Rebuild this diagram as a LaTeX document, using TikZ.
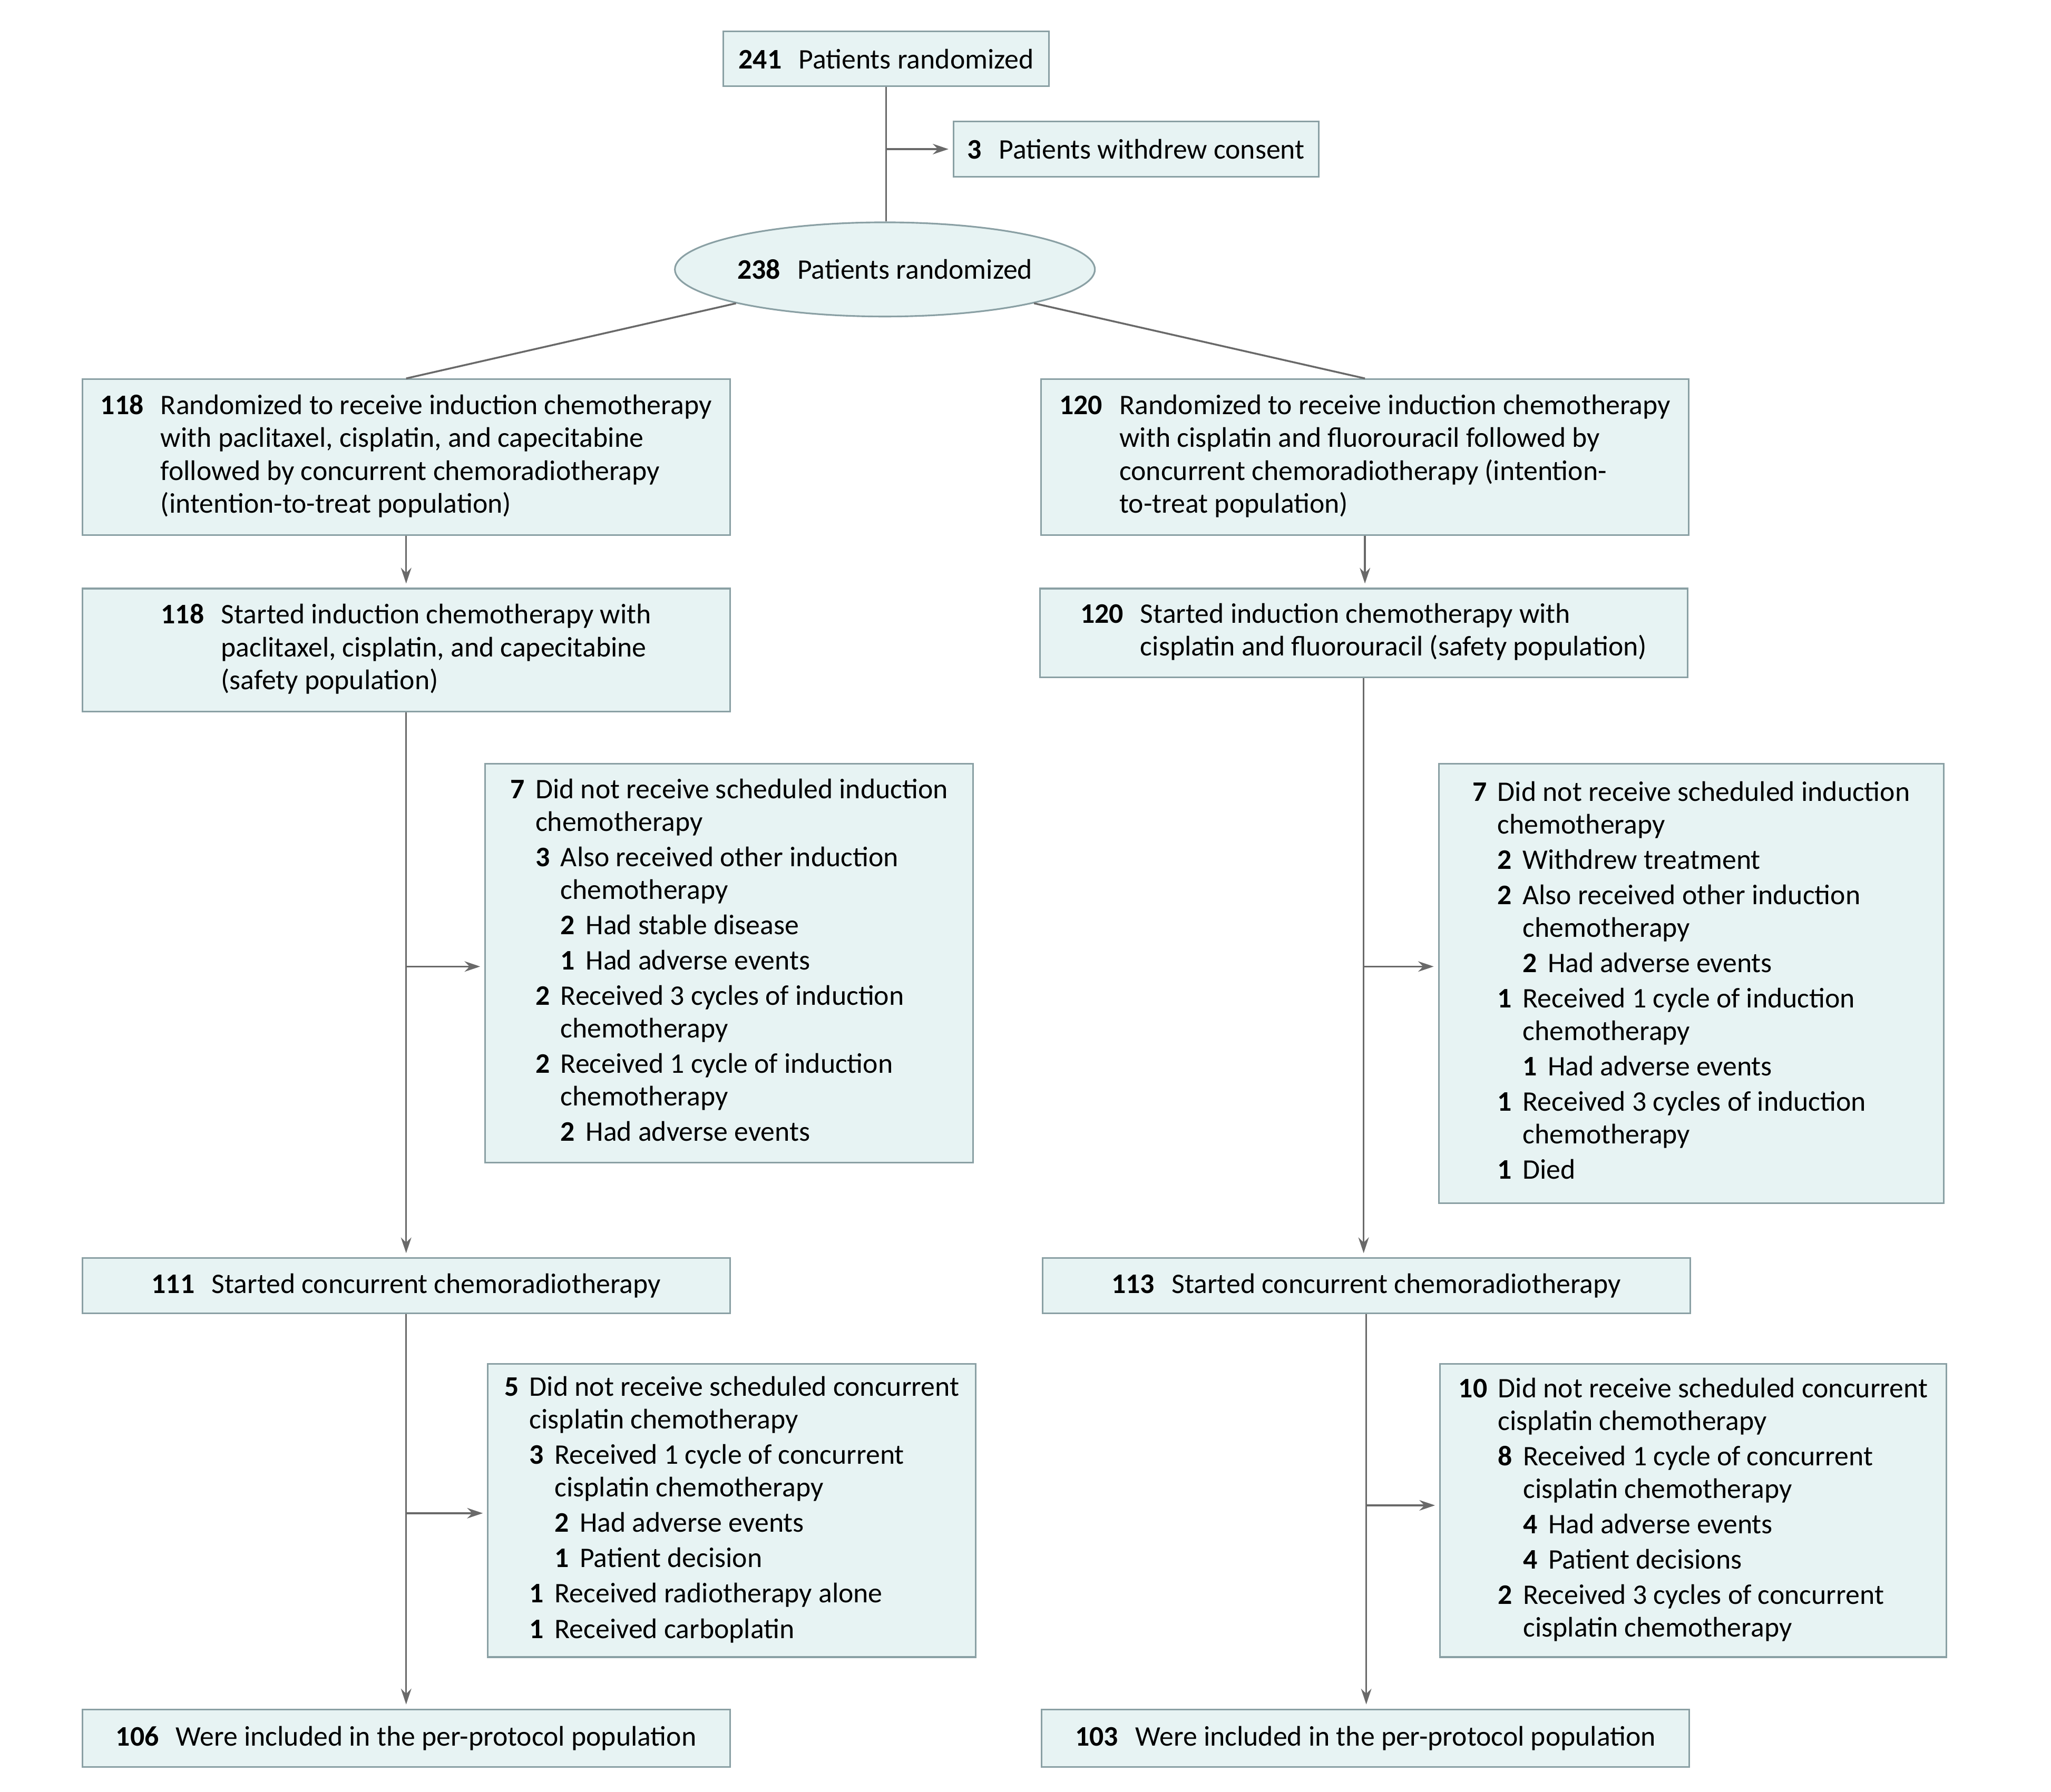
\documentclass[tikz,border=0pt]{standalone}
\usepackage{fontspec}
\setmainfont{Carlito}
\usetikzlibrary{arrows.meta, shapes.geometric, positioning}

\definecolor{boxfill}{RGB}{231,243,243}
\definecolor{boxline}{RGB}{138,160,164}
\definecolor{linegray}{RGB}{105,105,105}
\newcommand{\boxfont}{\fontsize{15.4pt}{17.8pt}\selectfont}
\newcommand{\rowgap}{1.4pt}

\tikzset{
    flowbox/.style={draw=boxline, fill=boxfill, line width=0.9pt, inner sep=0pt, font=\boxfont},
    mainbox/.style={flowbox, minimum width=12.375cm},
    conn/.style={draw=linegray, line width=1pt},
    arr/.style={conn, -{Stealth[length=0.3cm, width=0.2cm]}, shorten >=0.08cm}
}

\begin{document}
\begin{tikzpicture}[x=0.025cm, y=-0.025cm]
    \useasboundingbox (0,0) rectangle (1568,1370);

    % Randomization
    \node[flowbox, minimum width=6.225cm, minimum height=1.05cm] (top) at (677.5,45)
        {\textbf{241}\hspace{.6em}Patients randomized};
    \node[flowbox, minimum width=6.975cm, minimum height=1.05cm] (withdrew) at (868.5,114)
        {\textbf{3}\hspace{.6em}Patients withdrew consent};
    \node[flowbox, ellipse, minimum width=8.025cm, minimum height=1.8cm] (rand238) at (676.5,206)
        {\textbf{238}\hspace{.6em}Patients randomized};

    % Intention-to-treat
    \node[mainbox, minimum height=2.975cm] (itt1) at (310.5,349.5) {%
        \begin{tabular}{@{}l@{\hspace{.6em}}l@{}}
        \textbf{118} & Randomized to receive induction chemotherapy\\
         & with paclitaxel, cisplatin, and capecitabine\\
         & followed by concurrent chemoradiotherapy\\
         & (intention-to-treat population)
        \end{tabular}};
    \node[mainbox, minimum height=2.975cm] (itt2) at (1043.5,349.5) {%
        \begin{tabular}{@{}l@{\hspace{.6em}}l@{}}
        \textbf{120} & Randomized to receive induction chemotherapy\\
         & with cisplatin and fluorouracil followed by\\
         & concurrent chemoradiotherapy (intention-\\
         & to-treat population)
        \end{tabular}};

    % Safety
    \node[mainbox, minimum height=2.35cm] (safe1) at (310.5,497) {%
        \begin{tabular}{@{}l@{\hspace{.6em}}l@{}}
        \textbf{118} & Started induction chemotherapy with\\
         & paclitaxel, cisplatin, and capecitabine\\
         & (safety population)
        \end{tabular}};
    \node[mainbox, minimum height=1.7cm] (safe2) at (1042.5,484) {%
        \begin{tabular}{@{}l@{\hspace{.6em}}l@{}}
        \textbf{120} & Started induction chemotherapy with\\
         & cisplatin and fluorouracil (safety population)
        \end{tabular}};

    % Induction exclusions
    \node[flowbox, minimum width=9.325cm, minimum height=7.625cm] (excl1) at (557.5,736.5) {%
        \begin{tabular}{@{}l@{\hspace{.38em}}l@{\hspace{.38em}}l@{\hspace{.38em}}l@{}}
        \textbf{7} & \multicolumn{3}{@{}l@{}}{Did not receive scheduled induction}\\
         & \multicolumn{3}{@{}l@{}}{chemotherapy}\\[\rowgap]
         & \textbf{3} & \multicolumn{2}{@{}l@{}}{Also received other induction}\\
         & & \multicolumn{2}{@{}l@{}}{chemotherapy}\\[\rowgap]
         & & \textbf{2} & Had stable disease\\[\rowgap]
         & & \textbf{1} & Had adverse events\\[\rowgap]
         & \textbf{2} & \multicolumn{2}{@{}l@{}}{Received 3 cycles of induction}\\
         & & \multicolumn{2}{@{}l@{}}{chemotherapy}\\[\rowgap]
         & \textbf{2} & \multicolumn{2}{@{}l@{}}{Received 1 cycle of induction}\\
         & & \multicolumn{2}{@{}l@{}}{chemotherapy}\\[\rowgap]
         & & \textbf{2} & Had adverse events
        \end{tabular}};
    \node[flowbox, minimum width=9.65cm, minimum height=8.4cm] (excl2) at (1293,752) {%
        \begin{tabular}{@{}l@{\hspace{.38em}}l@{\hspace{.38em}}l@{\hspace{.38em}}l@{}}
        \textbf{7} & \multicolumn{3}{@{}l@{}}{Did not receive scheduled induction}\\
         & \multicolumn{3}{@{}l@{}}{chemotherapy}\\[\rowgap]
         & \textbf{2} & \multicolumn{2}{@{}l@{}}{Withdrew treatment}\\[\rowgap]
         & \textbf{2} & \multicolumn{2}{@{}l@{}}{Also received other induction}\\
         & & \multicolumn{2}{@{}l@{}}{chemotherapy}\\[\rowgap]
         & & \textbf{2} & Had adverse events\\[\rowgap]
         & \textbf{1} & \multicolumn{2}{@{}l@{}}{Received 1 cycle of induction}\\
         & & \multicolumn{2}{@{}l@{}}{chemotherapy}\\[\rowgap]
         & & \textbf{1} & Had adverse events\\[\rowgap]
         & \textbf{1} & \multicolumn{2}{@{}l@{}}{Received 3 cycles of induction}\\
         & & \multicolumn{2}{@{}l@{}}{chemotherapy}\\[\rowgap]
         & \textbf{1} & \multicolumn{2}{@{}l@{}}{Died}
        \end{tabular}};

    % Concurrent chemoradiotherapy
    \node[mainbox, minimum height=1.05cm] (ccrt1) at (310.5,983)
        {\textbf{111}\hspace{.6em}Started concurrent chemoradiotherapy};
    \node[mainbox, minimum height=1.05cm] (ccrt2) at (1044.5,983)
        {\textbf{113}\hspace{.6em}Started concurrent chemoradiotherapy};

    % Concurrent exclusions
    \node[flowbox, minimum width=9.325cm, minimum height=5.6cm] (excl3) at (559.5,1155) {%
        \begin{tabular}{@{}l@{\hspace{.38em}}l@{\hspace{.38em}}l@{\hspace{.38em}}l@{}}
        \textbf{5} & \multicolumn{3}{@{}l@{}}{Did not receive scheduled concurrent}\\
         & \multicolumn{3}{@{}l@{}}{cisplatin chemotherapy}\\[\rowgap]
         & \textbf{3} & \multicolumn{2}{@{}l@{}}{Received 1 cycle of concurrent}\\
         & & \multicolumn{2}{@{}l@{}}{cisplatin chemotherapy}\\[\rowgap]
         & & \textbf{2} & Had adverse events\\[\rowgap]
         & & \textbf{1} & Patient decision\\[\rowgap]
         & \textbf{1} & \multicolumn{2}{@{}l@{}}{Received radiotherapy alone}\\[\rowgap]
         & \textbf{1} & \multicolumn{2}{@{}l@{}}{Received carboplatin}
        \end{tabular}};
    \node[flowbox, minimum width=9.675cm, minimum height=5.6cm] (excl4) at (1294.5,1155) {%
        \begin{tabular}{@{}l@{\hspace{.38em}}l@{\hspace{.38em}}l@{\hspace{.38em}}l@{}}
        \textbf{10} & \multicolumn{3}{@{}l@{}}{Did not receive scheduled concurrent}\\
         & \multicolumn{3}{@{}l@{}}{cisplatin chemotherapy}\\[\rowgap]
         & \textbf{8} & \multicolumn{2}{@{}l@{}}{Received 1 cycle of concurrent}\\
         & & \multicolumn{2}{@{}l@{}}{cisplatin chemotherapy}\\[\rowgap]
         & & \textbf{4} & Had adverse events\\[\rowgap]
         & & \textbf{4} & Patient decisions\\[\rowgap]
         & \textbf{2} & \multicolumn{2}{@{}l@{}}{Received 3 cycles of concurrent}\\
         & & \multicolumn{2}{@{}l@{}}{cisplatin chemotherapy}
        \end{tabular}};

    % Per-protocol
    \node[mainbox, minimum height=1.1cm] (pp1) at (310.5,1329)
        {\textbf{106}\hspace{.6em}Were included in the per-protocol population};
    \node[mainbox, minimum height=1.1cm] (pp2) at (1044,1329)
        {\textbf{103}\hspace{.6em}Were included in the per-protocol population};

    % Connectors
    \coordinate (j0) at (top.south |- withdrew.west);
    \draw[conn] (top.south) -- (top.south |- rand238.north);
    \draw[arr] (j0) -- (withdrew.west);
    \draw[conn] (rand238) -- (itt1.north);
    \draw[conn] (rand238) -- (itt2.north);
    \draw[arr] (itt1) -- (safe1);
    \draw[arr] (itt2.south) -- (itt2.south |- safe2.north);

    \coordinate (j1) at (safe1.south |- 0,739);
    \coordinate (j2) at (safe2.south |- 0,739);
    \draw[arr] (safe1.south) -- (ccrt1.north);
    \draw[arr] (j1) -- (j1 -| excl1.west);
    \draw[arr] (safe2.south) -- (safe2.south |- ccrt2.north);
    \draw[arr] (j2) -- (j2 -| excl2.west);

    \coordinate (j3) at (ccrt1.south |- 0,1157);
    \coordinate (j4) at (ccrt2.south |- 0,1151);
    \draw[arr] (ccrt1.south) -- (pp1.north);
    \draw[arr] (j3) -- (j3 -| excl3.west);
    \draw[arr] (ccrt2.south) -- (ccrt2.south |- pp2.north);
    \draw[arr] (j4) -- (j4 -| excl4.west);
\end{tikzpicture}
\end{document}
